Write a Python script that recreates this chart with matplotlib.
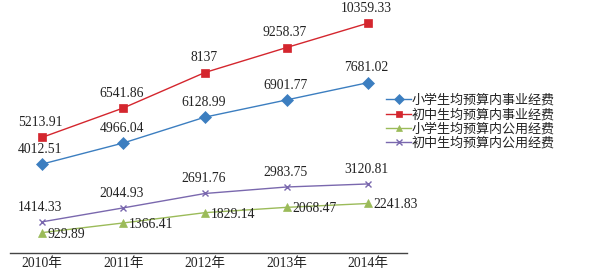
import matplotlib
matplotlib.use('Agg')
import matplotlib.pyplot as plt

# 数据
anos = ['2010年', '2011年', '2012年', '2013年', '2014年']
xiaoxue_shiye = [4012.51, 4966.04, 6128.99, 6901.77, 7681.02]
chuzhong_shiye = [5213.91, 6541.86, 8137, 9258.37, 10359.33]
xiaoxue_gongyong = [929.89, 1366.41, 1829.14, 2068.47, 2241.83]
chuzhong_gongyong = [1414.33, 2044.93, 2691.76, 2983.75, 3120.81]

nomes = ['小学生均预算内事业经费', '初中生均预算内事业经费',
         '小学生均预算内公用经费', '初中生均预算内公用经费']
labels_str = [
    ['4012.51', '4966.04', '6128.99', '6901.77', '7681.02'],
    ['5213.91', '6541.86', '8137', '9258.37', '10359.33'],
    ['929.89', '1366.41', '1829.14', '2068.47', '2241.83'],
    ['1414.33', '2044.93', '2691.76', '2983.75', '3120.81'],
]

plt.rcParams['font.family'] = ['Liberation Serif', 'Noto Sans CJK SC', 'DejaVu Sans']

fig = plt.figure(figsize=(5.91, 2.80), dpi=100)
ax = fig.add_axes([0.017, 1 - 253.3 / 280, 0.672, 253.3 / 280])

x = list(range(len(anos)))
series = [xiaoxue_shiye, chuzhong_shiye, xiaoxue_gongyong, chuzhong_gongyong]
cores = ['#3C7EC0', '#D4262E', '#9BBB59', '#7A68AE']
marcadores = ['D', 's', '^', 'x']
tamanhos = [6, 6, 6, 5]

for i, vals in enumerate(series):
    ax.plot(x, vals, color=cores[i], marker=marcadores[i], markersize=tamanhos[i],
            linewidth=1.0, markeredgewidth=1.0 if marcadores[i] == 'x' else 0.5,
            markeredgecolor=cores[i], label=nomes[i])
    for xi, v, s in zip(x, vals, labels_str[i]):
        if i == 2:
            ax.annotate(s, (xi, v), xytext=(4, -1), textcoords='offset points',
                        ha='left', va='center', fontsize=9.8, color='#222222')
        else:
            ax.annotate(s, (xi, v), xytext=(-1, 6), textcoords='offset points',
                        ha='center', va='bottom', fontsize=9.8, color='#222222')

ax.set_xlim(-0.39, 4.48)
ax.set_ylim(0, 11400)
ax.set_xticks(x)
ax.set_xticklabels(anos, fontsize=9.8, color='#222222')
ax.tick_params(axis='x', length=0, pad=3)
ax.set_yticks([])
for lado in ['top', 'right', 'left']:
    ax.spines[lado].set_visible(False)
ax.spines['bottom'].set_color('#444444')
ax.spines['bottom'].set_linewidth(1.0)

leg = fig.legend(loc='upper left', bbox_to_anchor=(0.638, 0.697), frameon=False,
                 handlelength=1.9, handletextpad=0.05, markerscale=0.8,
                 labelspacing=0.1, borderpad=0.2,
                 prop={'family': ['Noto Sans CJK SC'], 'size': 9.4})
for t in leg.get_texts():
    t.set_color('#222222')

fig.savefig('out.png', dpi=100)
